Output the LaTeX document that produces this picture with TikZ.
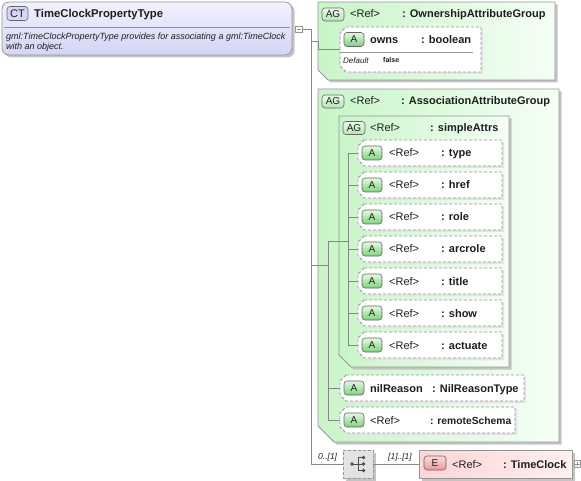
\documentclass[tikz,border=0pt]{standalone}
\usepackage{fontspec}
\setmainfont{Liberation Sans}
\usetikzlibrary{positioning}

\definecolor{boxline}{RGB}{150,150,150}
\definecolor{connline}{RGB}{135,135,135}
\definecolor{shadowgray}{RGB}{196,196,196}
\definecolor{agleft}{RGB}{200,245,200}
\definecolor{agright}{RGB}{245,255,245}
\definecolor{cttop}{RGB}{242,242,255}
\definecolor{ctbottom}{RGB}{212,212,246}
\definecolor{atop}{RGB}{225,250,225}
\definecolor{abottom}{RGB}{125,208,125}
\definecolor{agtop}{RGB}{238,252,238}
\definecolor{agbottom}{RGB}{178,228,178}
\definecolor{ctbadgefill}{RGB}{214,214,250}
\definecolor{etop}{RGB}{252,220,220}
\definecolor{ebottom}{RGB}{238,150,150}
\definecolor{eleft}{RGB}{255,212,212}
\definecolor{eright}{RGB}{255,240,240}
\definecolor{seqfill}{RGB}{226,226,226}
\definecolor{ink}{RGB}{30,30,30}

\tikzset{
  conn/.style={draw=connline, line width=.8pt},
  sepline/.style={draw=boxline, line width=.8pt},
  boxshadow/.style={preaction={fill=shadowgray, transform canvas={xshift=2.5pt, yshift=-2.5pt}}},
  boxarea/.style={rectangle, anchor=north west, inner sep=0pt, outer sep=0pt},
  ctbox/.style={draw=boxline, line width=.8pt, rounded corners=7pt, top color=cttop, bottom color=ctbottom, boxshadow, anchor=north west, inner sep=0pt, outer sep=0pt},
  agframe/.style={draw=boxline, line width=.8pt, left color=agleft, right color=agright, boxshadow},
  attframe/.style={draw=boxline, line width=.8pt, dash pattern=on 3pt off 2pt, fill=white, preaction={fill=shadowgray!45, transform canvas={xshift=2pt, yshift=-2pt}}},
  elbox/.style={draw=boxline, line width=.8pt, left color=eleft, right color=eright, boxshadow, anchor=north west, inner sep=0pt, outer sep=0pt},
  seqbox/.style={draw=boxline, line width=.8pt, dash pattern=on 3pt off 2pt, fill=seqfill, boxshadow, inner sep=0pt, outer sep=0pt, minimum width=30pt, minimum height=28pt},
  badge/.style={draw=black!60, line width=.6pt, rounded corners=3pt, inner sep=0pt, text=ink, font=\fontsize{10}{12}\selectfont},
  abadge/.style={badge, top color=atop, bottom color=abottom, minimum width=20pt, minimum height=14pt},
  agbadge/.style={badge, top color=agtop, bottom color=agbottom, minimum width=22pt, minimum height=13pt},
  ctbadge/.style={badge, fill=ctbadgefill, minimum width=21pt, minimum height=14pt, font=\fontsize{11}{13}\selectfont},
  ebadge/.style={badge, top color=etop, bottom color=ebottom, minimum width=22pt, minimum height=14pt},
  fold/.style={draw=boxline, line width=.6pt, fill=white, inner sep=0pt, minimum size=6.5pt},
  reflbl/.style={anchor=base west, inner sep=0pt, text=ink, font=\fontsize{11}{13}\selectfont},
  namelbl/.style={anchor=base west, inner sep=0pt, text=ink, font=\fontsize{11}{13}\selectfont\bfseries},
  doclbl/.style={anchor=base west, inner sep=0pt, text=ink, font=\fontsize{9}{10}\selectfont\itshape},
  cardlbl/.style={anchor=base west, inner sep=0pt, text=ink, font=\fontsize{8.5}{10}\selectfont\itshape}
}

% group frame, cut at the lower left
\newcommand{\groupframe}[2]{%
  \draw[agframe] (#1.north west) -- (#1.north east) -- (#1.south east) -- ([xshift=#2]#1.south west) -- ([yshift=#2]#1.south west) -- cycle;}
% attribute frame, cut at both left corners
\newcommand{\attrframe}[1]{%
  \draw[attframe] ([xshift=6pt]#1.north west) -- (#1.north east) -- (#1.south east) -- ([xshift=6pt]#1.south west) -- ([yshift=6pt]#1.south west) -- ([yshift=-6pt]#1.north west) -- cycle;}

\begin{document}
\begin{tikzpicture}[x=1pt,y=-1pt]
    \useasboundingbox (0,0) rectangle (581,481);
    %Complex type
    \node[ctbox, minimum width=290pt, minimum height=53pt] (ct) at (2,2) {};
    \node[ctbadge] (ct-tag) at (17.5,13.5) {CT};
    \node[namelbl, font=\fontsize{11.3}{13}\selectfont\bfseries] (ct-name) at (34,18) {TimeClockPropertyType};
    \draw[sepline] (4,27) -- (290,27);
    \node[doclbl] (ct-doc1) at (6,39.5) {gml:TimeClockPropertyType provides for associating a gml:TimeClock};
    \node[doclbl] (ct-doc2) at (6,49.5) {with an object.};
    \node[fold] (ct-fold) at (299,29.5) {};
    \draw[draw=boxline, line width=.6pt] ([xshift=1.5pt]ct-fold.west) -- ([xshift=-1.5pt]ct-fold.east);
    \coordinate (trunk) at (311,29.5);
    %Ownership group
    \node[boxarea, minimum width=237pt, minimum height=78pt] (own) at (318,2) {};
    \groupframe{own}{10pt}
    \node[agbadge] (own-tag) at (333,14.5) {AG};
    \node[reflbl] (own-ref) at (350,18) {<Ref>};
    \node[namelbl] (own-type) at (402,18) {: OwnershipAttributeGroup};
    \node[boxarea, minimum width=141pt, minimum height=45pt] (owns) at (340,27) {};
    \attrframe{owns}
    \node[abadge] (owns-tag) at (354,39.5) {A};
    \node[namelbl] (owns-name) at (370,44) {owns};
    \node[namelbl] (owns-type) at (421,44) {: boolean};
    \draw[sepline] (340,52) -- (473,52);
    \node[cardlbl, font=\fontsize{8}{10}\selectfont\itshape] (owns-def) at (343,64) {Default};
    \node[anchor=base west, inner sep=0pt, text=ink, font=\fontsize{7}{8}\selectfont\bfseries] (owns-val) at (383,63) {false};
    %Association group
    \node[boxarea, minimum width=241pt, minimum height=353pt] (assoc) at (318,89) {};
    \groupframe{assoc}{16pt}
    \node[agbadge] (assoc-tag) at (333,101.5) {AG};
    \node[reflbl] (assoc-ref) at (350,105) {<Ref>};
    \node[namelbl] (assoc-type) at (401,105) {: AssociationAttributeGroup};
    %Simple attributes
    \node[boxarea, minimum width=170pt, minimum height=251pt] (simple) at (339,116) {};
    \groupframe{simple}{12pt}
    \node[agbadge] (simple-tag) at (354,128) {AG};
    \node[reflbl] (simple-ref) at (370,132) {<Ref>};
    \node[namelbl] (simple-type) at (430,132) {: simpleAttrs};
    \node[boxarea, minimum width=144pt, minimum height=26pt] (type) at (358,140) {};
    \attrframe{type}
    \node[abadge] (type-tag) at (372,153) {A};
    \node[reflbl] (type-ref) at (389,157) {<Ref>};
    \node[namelbl] (type-name) at (441,157) {: type};
    \node[boxarea, minimum width=144pt, minimum height=26pt] (href) at (358,172) {};
    \attrframe{href}
    \node[abadge] (href-tag) at (372,185) {A};
    \node[reflbl] (href-ref) at (389,189) {<Ref>};
    \node[namelbl] (href-name) at (441,189) {: href};
    \node[boxarea, minimum width=144pt, minimum height=26pt] (role) at (358,204) {};
    \attrframe{role}
    \node[abadge] (role-tag) at (372,217) {A};
    \node[reflbl] (role-ref) at (389,221) {<Ref>};
    \node[namelbl] (role-name) at (441,221) {: role};
    \node[boxarea, minimum width=144pt, minimum height=26pt] (arcrole) at (358,236) {};
    \attrframe{arcrole}
    \node[abadge] (arcrole-tag) at (372,249) {A};
    \node[reflbl] (arcrole-ref) at (389,253) {<Ref>};
    \node[namelbl] (arcrole-name) at (441,253) {: arcrole};
    \node[boxarea, minimum width=144pt, minimum height=26pt] (title) at (358,268) {};
    \attrframe{title}
    \node[abadge] (title-tag) at (372,281) {A};
    \node[reflbl] (title-ref) at (389,285) {<Ref>};
    \node[namelbl] (title-name) at (441,285) {: title};
    \node[boxarea, minimum width=144pt, minimum height=26pt] (show) at (358,300) {};
    \attrframe{show}
    \node[abadge] (show-tag) at (372,313) {A};
    \node[reflbl] (show-ref) at (389,317) {<Ref>};
    \node[namelbl] (show-name) at (441,317) {: show};
    \node[boxarea, minimum width=144pt, minimum height=26pt] (actuate) at (358,332) {};
    \attrframe{actuate}
    \node[abadge] (actuate-tag) at (372,345) {A};
    \node[reflbl] (actuate-ref) at (389,349) {<Ref>};
    \node[namelbl] (actuate-name) at (441,349) {: actuate};
    %Other attributes
    \node[boxarea, minimum width=184pt, minimum height=26pt] (nil) at (340,375) {};
    \attrframe{nil}
    \node[abadge] (nil-tag) at (354,388) {A};
    \node[namelbl] (nil-name) at (370,392) {nilReason};
    \node[namelbl] (nil-type) at (432,392) {: NilReasonType};
    \node[boxarea, minimum width=175pt, minimum height=26pt] (remote) at (340,407) {};
    \attrframe{remote}
    \node[abadge] (remote-tag) at (354,420) {A};
    \node[reflbl] (remote-ref) at (370,424) {<Ref>};
    \node[namelbl, font=\fontsize{10.3}{13}\selectfont\bfseries] (remote-name) at (430,424) {: remoteSchema};
    %Sequence and element
    \node[seqbox] (seq) at (358,464) {};
    \fill[black!70] (352,464) circle (1.8pt) (363.5,457.5) circle (1.8pt) (363.5,464) circle (1.8pt) (363.5,470.5) circle (1.8pt);
    \draw[black!70, line width=.8pt] (352,464) -- (363.5,464) (358,457.5) -- (358,470.5) (358,457.5) -- (363.5,457.5) (358,470.5) -- (363.5,470.5);
    \node[elbox, minimum width=153pt, minimum height=28pt] (tc) at (419,450) {};
    \node[ebadge] (tc-tag) at (435,463) {E};
    \node[reflbl] (tc-ref) at (452,468) {<Ref>};
    \node[namelbl] (tc-name) at (503,468) {: TimeClock};
    \node[fold] (tc-fold) at (577.5,464) {};
    \draw[draw=boxline, line width=.6pt] ([xshift=1.2pt]tc-fold.west) -- ([xshift=-1.2pt]tc-fold.east) ([yshift=-1.2pt]tc-fold.north) -- ([yshift=1.2pt]tc-fold.south);
    \node[cardlbl] (seq-min) at (318,459) {0..[1]};
    \node[cardlbl] (tc-min) at (388,459) {[1]..[1]};
    %Connectors
    \coordinate (assoc-bus) at (328,0);
    \coordinate (simple-bus) at (348,0);
    \draw[conn] (ct-fold) -- (trunk) -- (trunk |- seq) -- (seq);
    \draw[conn] (seq) -- (tc);
    \draw[conn] (trunk |- own.west) -- (own.west) |- (owns.west);
    \draw[conn] (trunk |- assoc.west) -- (assoc-bus |- assoc.west);
    \draw[conn] (assoc-bus |- simple.west) -- (assoc-bus |- remote.west);
    \draw[conn] (assoc-bus |- simple.west) -- (simple-bus |- simple.west);
    \draw[conn] (assoc-bus |- nil.west) -- (nil.west);
    \draw[conn] (assoc-bus |- remote.west) -- (remote.west);
    \draw[conn] (simple-bus |- type.west) -- (simple-bus |- actuate.west);
    \draw[conn] (simple-bus |- type.west) -- (type.west);
    \draw[conn] (simple-bus |- href.west) -- (href.west);
    \draw[conn] (simple-bus |- role.west) -- (role.west);
    \draw[conn] (simple-bus |- arcrole.west) -- (arcrole.west);
    \draw[conn] (simple-bus |- title.west) -- (title.west);
    \draw[conn] (simple-bus |- show.west) -- (show.west);
    \draw[conn] (simple-bus |- actuate.west) -- (actuate.west);
\end{tikzpicture}
\end{document}
